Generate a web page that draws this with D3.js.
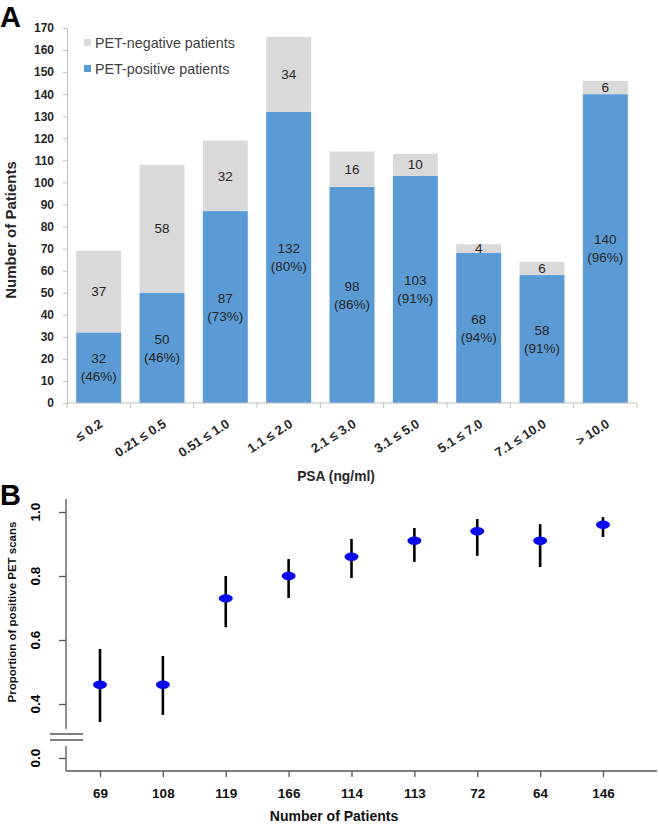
<!DOCTYPE html>
<html><head><meta charset="utf-8">
<script src="https://cdn.jsdelivr.net/npm/d3@7"></script>
<style>body{margin:0;background:#fff;} svg{display:block;font-family:Arial,"Liberation Sans",sans-serif;}</style>
</head><body>
<script>
const categories = ["≤ 0.2","0.21 ≤ 0.5","0.51 ≤ 1.0","1.1 ≤ 2.0","2.1 ≤ 3.0","3.1 ≤ 5.0","5.1 ≤ 7.0","7.1 ≤ 10.0","> 10.0"];
const positive = [32,50,87,132,98,103,68,58,140];
const negative = [37,58,32,34,16,10,4,6,6];
const percentLabels = ["46%","46%","73%","80%","86%","91%","94%","91%","96%"];
const yTicksA = d3.range(0,171,10);

const nPatients = [69,108,119,166,114,113,72,64,146];
const proportion = [0.46,0.46,0.73,0.80,0.86,0.91,0.94,0.91,0.96];
const ciLower = [0.344,0.366,0.64,0.731,0.794,0.844,0.863,0.828,0.922];
const ciUpper = [0.572,0.55,0.80,0.853,0.916,0.95,0.978,0.962,0.984];
const yTicksB = [0.4,0.6,0.8,1.0];

const W=659,H=824;
const svg=d3.select("body").append("svg").attr("width",W).attr("height",H);

// ---------- Panel A ----------
const xA=d3.scaleBand().domain(categories).range([67,637]).paddingInner(0.29).paddingOuter(0.145);
const yA=d3.scaleLinear().domain([0,170]).range([403,28]);
const gA=svg.append("g");
const data=categories.map((c,i)=>({c,p:positive[i],n:negative[i],pct:percentLabels[i]}));

gA.selectAll("rect.pos").data(data).join("rect")
  .attr("x",d=>xA(d.c)).attr("width",xA.bandwidth())
  .attr("y",d=>yA(d.p)).attr("height",d=>yA(0)-yA(d.p)).attr("fill","#5b9bd5");
gA.selectAll("rect.neg").data(data).join("rect")
  .attr("x",d=>xA(d.c)).attr("width",xA.bandwidth())
  .attr("y",d=>yA(d.p+d.n)).attr("height",d=>yA(d.p)-yA(d.p+d.n)).attr("fill","#d9d9d9");

// axes
const yAxisA=d3.axisLeft(yA).tickValues(yTicksA).tickSize(4).tickPadding(9);
const ga=gA.append("g").attr("transform","translate(67,0)").call(yAxisA);
ga.select(".domain").attr("stroke","#bfbfbf");
ga.selectAll(".tick line").attr("stroke","#bfbfbf");
ga.selectAll(".tick text").attr("font-size",12).attr("font-weight","bold").attr("fill","#262626").attr("font-family","Arial, Liberation Sans");

gA.append("line").attr("x1",67).attr("x2",637).attr("y1",403).attr("y2",403).attr("stroke","#bfbfbf");
const step=xA.step();
gA.selectAll("line.bnd").data(d3.range(categories.length+1)).join("line")
  .attr("x1",i=>67+i*step).attr("x2",i=>67+i*step).attr("y1",403).attr("y2",408).attr("stroke","#bfbfbf");

gA.selectAll("text.xl").data(categories).join("text")
  .attr("transform",c=>`translate(${xA(c)+xA.bandwidth()/2+5},${426}) rotate(-33)`)
  .attr("text-anchor","end").attr("font-size",13).attr("font-weight","bold").attr("fill","#262626").text(c=>c);

// bar labels
gA.selectAll("text.nl").data(data).join("text")
  .attr("x",d=>xA(d.c)+xA.bandwidth()/2).attr("y",d=>yA(d.p+d.n/2)).attr("dy","0.35em")
  .attr("text-anchor","middle").attr("font-size",13.5).attr("fill","#262626").text(d=>d.n);
const pl=gA.selectAll("text.pl").data(data).join("text")
  .attr("text-anchor","middle").attr("font-size",13.5).attr("fill","#262626");
pl.append("tspan").attr("x",d=>xA(d.c)+xA.bandwidth()/2).attr("y",d=>yA(d.p/2)-9).attr("dy","0.35em").text(d=>d.p);
pl.append("tspan").attr("x",d=>xA(d.c)+xA.bandwidth()/2).attr("y",d=>yA(d.p/2)+9).attr("dy","0.35em").text(d=>"("+d.pct+")");

// legend
const leg=[["PET-negative patients","#d9d9d9"],["PET-positive patients","#5b9bd5"]];
leg.forEach((l,i)=>{
  gA.append("rect").attr("x",84).attr("y",39+i*26).attr("width",7).attr("height",7).attr("fill",l[1]);
  gA.append("text").attr("x",95).attr("y",43+i*26).attr("dy","0.35em").attr("font-size",14.3).attr("fill","#404040").text(l[0]);
});

gA.append("text").attr("transform","translate(16,230) rotate(-90)").attr("text-anchor","middle")
  .attr("font-size",15).attr("font-weight","bold").attr("fill","#262626").text("Number of Patients");
gA.append("text").attr("x",336).attr("y",481).attr("text-anchor","middle")
  .attr("font-size",13.8).attr("font-weight","bold").attr("fill","#262626").text("PSA (ng/ml)");

svg.append("text").attr("x",0).attr("y",27).attr("font-size",29).attr("font-weight","bold").text("A");
svg.append("text").attr("x",0).attr("y",505).attr("font-size",29).attr("font-weight","bold").text("B");

// ---------- Panel B ----------
const gB=svg.append("g");
const xB=d3.scalePoint().domain(d3.range(nPatients.length)).range([100,603]);
const yB=d3.scaleLinear().domain([0.4,1.0]).range([704,512]);
const yB0=d3.scaleLinear().domain([0,0.1]).range([758,726]);
const axC="#555";

gB.append("line").attr("x1",66).attr("x2",66).attr("y1",499).attr("y2",729).attr("stroke",axC).attr("stroke-width",1.3);
gB.append("line").attr("x1",66).attr("x2",66).attr("y1",746).attr("y2",771).attr("stroke",axC).attr("stroke-width",1.3);
gB.append("line").attr("x1",66).attr("x2",657).attr("y1",771).attr("y2",771).attr("stroke",axC).attr("stroke-width",1.3);
[734,740].forEach(y=>gB.append("line").attr("x1",50).attr("x2",83).attr("y1",y).attr("y2",y).attr("stroke",axC).attr("stroke-width",1.3));

const yAxB=d3.axisLeft(yB).tickValues(yTicksB).tickFormat(d3.format(".1f")).tickSize(7).tickPadding(0);
const gyb=gB.append("g").attr("transform","translate(66,0)").call(yAxB);
gyb.select(".domain").remove();
gyb.selectAll(".tick line").attr("stroke",axC).attr("stroke-width",1.3);
gyb.selectAll(".tick text").remove();
const gyb0=gB.append("g").attr("transform","translate(66,0)").call(d3.axisLeft(yB0).tickValues([0]).tickFormat(d3.format(".1f")).tickSize(7));
gyb0.select(".domain").remove();
gyb0.selectAll(".tick line").attr("stroke",axC).attr("stroke-width",1.3);
gyb0.selectAll(".tick text").remove();
yTicksB.forEach(v=>gB.append("text").attr("transform",`translate(40,${yB(v)}) rotate(-90)`).attr("text-anchor","middle")
  .attr("font-size",13.5).attr("font-weight","bold").text(d3.format(".1f")(v)));
gB.append("text").attr("transform",`translate(40,${yB0(0)}) rotate(-90)`).attr("text-anchor","middle")
  .attr("font-size",13.5).attr("font-weight","bold").text("0.0");

const xAxB=d3.axisBottom(xB).tickFormat(i=>nPatients[i]).tickSize(6).tickPadding(11);
const gxb=gB.append("g").attr("transform","translate(0,771)").call(xAxB);
gxb.select(".domain").remove();
gxb.selectAll(".tick line").attr("stroke",axC).attr("stroke-width",1.3);
gxb.selectAll(".tick text").attr("font-size",13.5).attr("font-weight","bold").attr("fill","#111").attr("font-family","Arial, Liberation Sans");

const idx=d3.range(nPatients.length);
gB.selectAll("line.ci").data(idx).join("line")
  .attr("x1",i=>xB(i)).attr("x2",i=>xB(i)).attr("y1",i=>yB(ciLower[i])).attr("y2",i=>yB(ciUpper[i]))
  .attr("stroke","#000").attr("stroke-width",2.6);
gB.selectAll("ellipse").data(idx).join("ellipse")
  .attr("cx",i=>xB(i)).attr("cy",i=>yB(proportion[i])).attr("rx",7).attr("ry",4.2).attr("fill","#0a0aee");

gB.append("text").attr("transform","translate(16,612) rotate(-90)").attr("text-anchor","middle")
  .attr("font-size",11.5).attr("font-weight","bold").attr("fill","#111").text("Proportion of positive PET scans");
gB.append("text").attr("x",334).attr("y",821).attr("text-anchor","middle")
  .attr("font-size",14).attr("font-weight","bold").attr("fill","#111").text("Number of Patients");
</script>
</body></html>
